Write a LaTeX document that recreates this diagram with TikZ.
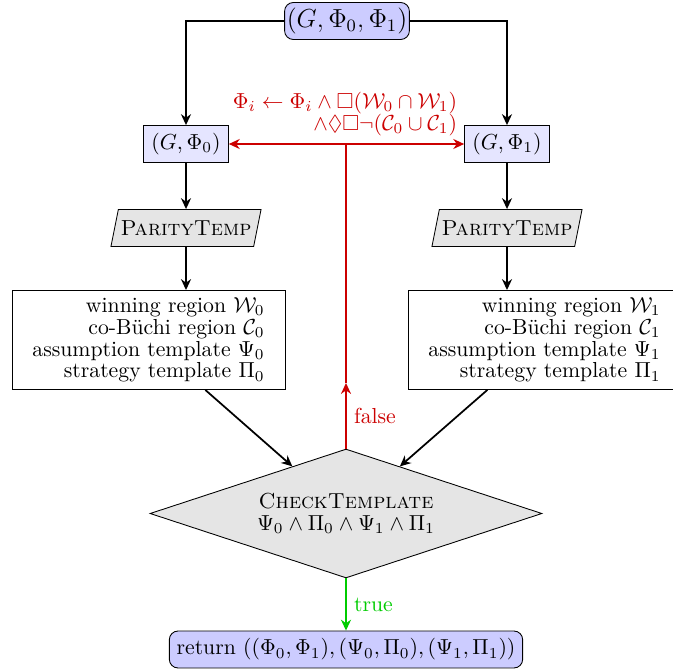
\documentclass[tikz,border=0pt]{standalone}
\usepackage{amsmath,amssymb}
\usepackage{tikz}
\usetikzlibrary{positioning}
\usetikzlibrary{arrows.meta}
\usetikzlibrary{shapes}
\definecolor{loopred}{RGB}{204,0,0}
\definecolor{okgreen}{RGB}{0,204,0}
\tikzset{every node/.style={font=\fontsize{10pt}{10pt}\selectfont}, % tighter lines in multi-line nodes
	game/.style={draw, rounded corners=4pt, fill=blue!20, minimum height=17pt},
	subgame/.style={draw, fill=blue!10, minimum height=17pt, minimum width=39pt},
	solver/.style={draw, trapezium, trapezium left angle=76, trapezium right angle=104,
			trapezium stretches=true, inner xsep=1pt, fill=gray!20, minimum width=59pt, minimum height=17pt},
	result/.style={draw, align=right, minimum width=125.6pt, minimum height=45.5pt},
	checker/.style={draw, diamond, aspect=3.04, inner sep=0pt, fill=gray!20, align=center,
			minimum width=180.3pt, minimum height=59.3pt}}

\begin{document}
\begin{tikzpicture}[x=0.46pt, y=-0.46pt, >={Stealth[length=5pt, width=4.6pt, inset=1.6pt]}]
			\useasboundingbox (0,0) rectangle (673,671);
			\node[game, inner sep=1pt, font=\fontsize{11.5pt}{12pt}\selectfont] (T) at (347,21) {$(G,\Phi_0,\Phi_1)$};
			\node[subgame] (G0) at (186,144) {$(G,\Phi_0)$};
			\node[subgame] (G1) at (507,144) {$(G,\Phi_1)$};
			\node[solver] (P0) at (186,228) {\textsc{ParityTemp}};
			\node[solver] (P1) at (507,228) {\textsc{ParityTemp}};
			\node[result] (B0) at (148.5,340) {winning region $\mathcal{W}_0$\\ co-B\"uchi region $\mathcal{C}_0$\\ assumption template $\Psi_0$\\ strategy template $\Pi_0$};
			\node[result] (B1) at (544.5,340) {winning region $\mathcal{W}_1$\\ co-B\"uchi region $\mathcal{C}_1$\\ assumption template $\Psi_1$\\ strategy template $\Pi_1$};
			\node[checker] (C) at (346,513.5) {\textsc{CheckTemplate}\\ $\Psi_0\wedge\Pi_0\wedge\Psi_1\wedge\Pi_1$};
			\node[game, minimum width=161.9pt] (R) at (346,649.5) {return $((\Phi_0,\Phi_1),(\Psi_0,\Pi_0),(\Psi_1,\Pi_1))$};
			\node[loopred, align=right] (U) at (345,114) {$\Phi_i\leftarrow\Phi_i\wedge\Box(\mathcal{W}_0\cap\mathcal{W}_1)$\\ $\wedge\Diamond\Box\neg(\mathcal{C}_0\cup\mathcal{C}_1)$};
			\coordinate (F) at (346,383);
			
			\draw[->, thick] (T) -| (G0);
			\draw[->, thick] (T) -| (G1);
			\draw[->, thick] (G0) -- (P0);
			\draw[->, thick] (G1) -- (P1);
			\draw[->, thick] (P0) -- (P0 |- B0.north);
			\draw[->, thick] (P1) -- (P1 |- B1.north);
			\draw[->, thick] (B0) -- (C);
			\draw[->, thick] (B1) -- (C);
			\draw[->, thick, okgreen] (C) -- node[right] {true} (R);
			\draw[->, thick, loopred] (C) -- node[right] {false} (F);
			\draw[thick, loopred] (F) -- (F |- G0);
			\draw[<->, thick, loopred] (G0) -- (G1);
		\end{tikzpicture}
\end{document}
